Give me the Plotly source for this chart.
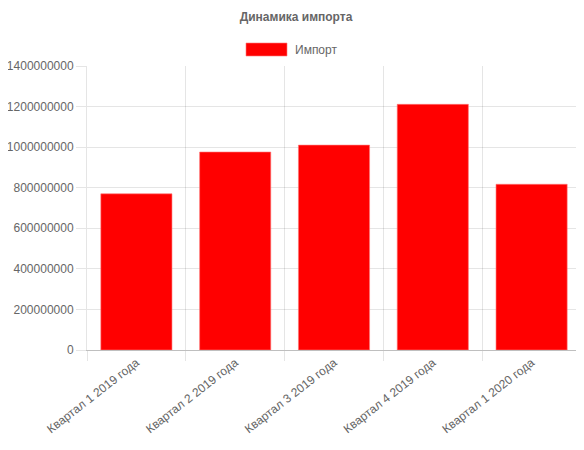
import plotly.graph_objects as go

categories = ["Квартал 1 2019 года", "Квартал 2 2019 года", "Квартал 3 2019 года",
              "Квартал 4 2019 года", "Квартал 1 2020 года"]
imports = [770000000, 976000000, 1010000000, 1211000000, 817000000]
series_name = "Импорт"
title_text = "Динамика импорта"
y_ticks = [0, 200000000, 400000000, 600000000, 800000000, 1000000000, 1200000000, 1400000000]

FONT = "Liberation Sans, Arial, sans-serif"
GRAY = "#666666"
GRID = "rgba(0,0,0,0.1)"

W, H = 576, 442
fig = go.Figure()
fig.add_trace(go.Bar(
    x=categories, y=imports, name=series_name,
    marker=dict(color="#ff0000", line=dict(color="rgba(255,120,120,0.6)", width=1)),
    showlegend=False,
))

fig.update_layout(
    width=W, height=H,
    margin=dict(l=79, r=3, t=58, b=100),
    paper_bgcolor="white", plot_bgcolor="white",
    bargap=0.28,
    font=dict(family=FONT, size=12, color=GRAY),
    title=dict(text="<b>" + title_text + "</b>", x=0.5, xanchor="center",
               y=1 - 9 / H, yanchor="middle",
               font=dict(family=FONT, size=12, color=GRAY)),
    xaxis=dict(
        tickson="boundaries", ticks="outside", ticklen=10, tickcolor=GRID,
        showgrid=True, gridcolor=GRID, gridwidth=1,
        tickangle=-38, tickfont=dict(family=FONT, size=12, color=GRAY),
        showline=True, linecolor="rgba(0,0,0,0.25)", linewidth=1,
        automargin=False,
    ),
    yaxis=dict(
        range=[0, 1400000000], tickvals=y_ticks,
        ticktext=[str(v) for v in y_ticks],
        ticks="outside", ticklen=10, tickcolor=GRID,
        showgrid=True, gridcolor=GRID, gridwidth=1,
        zeroline=False,
        showline=True, linecolor="rgba(0,0,0,0.1)", linewidth=1,
        tickfont=dict(family=FONT, size=12, color=GRAY),
        automargin=False,
    ),
    shapes=[dict(type="rect", xref="paper", yref="paper",
                 x0=(246 - 87) / 494, x1=(287 - 87) / 494,
                 y0=(350 - 56) / 284, y1=(350 - 43) / 284,
                 fillcolor="#ff0000", line=dict(color="rgba(255,120,120,0.6)", width=1))],
    annotations=[dict(text=series_name, xref="paper", yref="paper",
                      x=(293 - 87) / 494, y=(350 - 50) / 284, xanchor="left", yanchor="middle",
                      showarrow=False, font=dict(family=FONT, size=12, color=GRAY))],
)

fig.write_html("out.html")
